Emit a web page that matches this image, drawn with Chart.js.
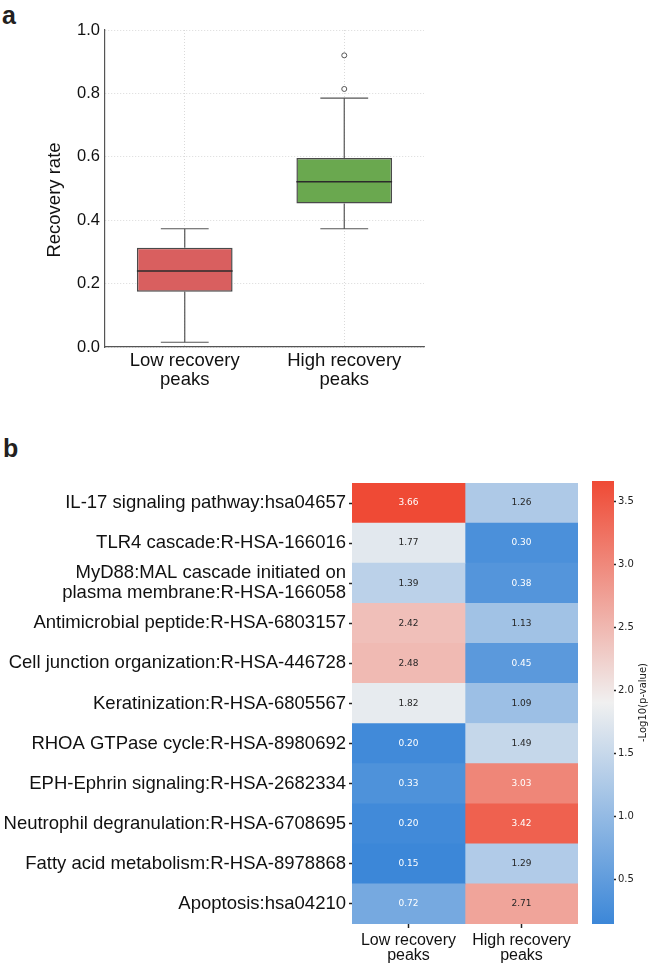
<!DOCTYPE html>
<html>
<head>
<meta charset="utf-8">
<script src="https://cdn.jsdelivr.net/npm/chart.js@4.4.0/dist/chart.umd.min.js"></script>
<style>
  body { margin: 0; background: #fff; width: 650px; height: 968px; position: relative; overflow: hidden; font-family: "Liberation Sans", Arial, sans-serif; }
  .panel { position: absolute; font-weight: bold; font-size: 25px; line-height: 25px; color: #231f20; }
  canvas { position: absolute; }
</style>
</head>
<body>
<div class="panel" style="left:2px;top:3px">a</div>
<div class="panel" style="left:3px;top:436px">b</div>
<canvas id="box" width="440" height="400" style="left:0;top:0"></canvas>
<canvas id="heat" width="590" height="498" style="left:0;top:470px"></canvas>
<canvas id="cbar" width="70" height="498" style="left:580px;top:470px"></canvas>
<script>
// panel a: box plot
const groups = [['Low recovery', 'peaks'], ['High recovery', 'peaks']];
const whiskerLow = [0.015, 0.373];
const q1 = [0.174, 0.453];
const median = [0.240, 0.521];
const q3 = [0.313, 0.596];
const whiskerHigh = [0.373, 0.785];
const outlierGroup = [1, 1];
const outlierVal = [0.814, 0.920];
const boxColors = ['#d95f5f', '#6aa84f'];
const yTicks = [0, 0.2, 0.4, 0.6, 0.8, 1.0];

// panel b: heatmap
const pathways = [
  'IL-17 signaling pathway:hsa04657',
  'TLR4 cascade:R-HSA-166016',
  ['MyD88:MAL cascade initiated on', 'plasma membrane:R-HSA-166058'],
  'Antimicrobial peptide:R-HSA-6803157',
  'Cell junction organization:R-HSA-446728',
  'Keratinization:R-HSA-6805567',
  'RHOA GTPase cycle:R-HSA-8980692',
  'EPH-Ephrin signaling:R-HSA-2682334',
  'Neutrophil degranulation:R-HSA-6708695',
  'Fatty acid metabolism:R-HSA-8978868',
  'Apoptosis:hsa04210'
];
const lowVals = [3.66, 1.77, 1.39, 2.42, 2.48, 1.82, 0.20, 0.33, 0.20, 0.15, 0.72];
const highVals = [1.26, 0.30, 0.38, 1.13, 0.45, 1.09, 1.49, 3.03, 3.42, 1.29, 2.71];
const colLabels = [['Low recovery', 'peaks'], ['High recovery', 'peaks']];
const cbTicks = [0.5, 1.0, 1.5, 2.0, 2.5, 3.0, 3.5];
const vmin = 0.15, vmax = 3.66;

const blue = [60, 135, 216], mid = [240, 240, 240], red = [239, 74, 53];

function cellColor(v) {
  const c = (vmin + vmax) / 2;
  let a, b, t;
  if (v <= c) { a = blue; b = mid; t = (v - vmin) / (c - vmin); }
  else { a = mid; b = red; t = (v - c) / (vmax - c); }
  t = Math.max(0, Math.min(1, t));
  const rgb = a.map((x, i) => Math.round(x + (b[i] - x) * t));
  return 'rgb(' + rgb.join(',') + ')';
}

function textColor(v) {
  const rgb = cellColor(v).match(/\d+/g).map(Number).map(x => {
    x /= 255;
    return x <= 0.03928 ? x / 12.92 : Math.pow((x + 0.055) / 1.055, 2.4);
  });
  const lum = 0.2126 * rgb[0] + 0.7152 * rgb[1] + 0.0722 * rgb[2];
  return lum > 0.408 ? '#262626' : '#ffffff';
}

// whiskers, medians and the y title
const boxExtras = {
  id: 'boxExtras',
  afterDatasetsDraw(chart) {
    const ctx = chart.ctx;
    const xs = chart.scales.x, ys = chart.scales.y;
    const bars = chart.getDatasetMeta(0).data;
    ctx.save();
    for (let i = 0; i < groups.length; i++) {
      const x = xs.getPixelForValue(i);
      const w = bars[i].width;
      ctx.strokeStyle = '#555';
      ctx.lineWidth = 1.2;
      ctx.beginPath();
      ctx.moveTo(x, ys.getPixelForValue(q3[i]));
      ctx.lineTo(x, ys.getPixelForValue(whiskerHigh[i]));
      ctx.moveTo(x, ys.getPixelForValue(q1[i]));
      ctx.lineTo(x, ys.getPixelForValue(whiskerLow[i]));
      ctx.moveTo(x - w / 4, ys.getPixelForValue(whiskerHigh[i]));
      ctx.lineTo(x + w / 4, ys.getPixelForValue(whiskerHigh[i]));
      ctx.moveTo(x - w / 4, ys.getPixelForValue(whiskerLow[i]));
      ctx.lineTo(x + w / 4, ys.getPixelForValue(whiskerLow[i]));
      ctx.stroke();
      ctx.strokeStyle = '#2b2b2b';
      ctx.lineWidth = 1.5;
      ctx.beginPath();
      ctx.moveTo(x - w / 2, ys.getPixelForValue(median[i]));
      ctx.lineTo(x + w / 2, ys.getPixelForValue(median[i]));
      ctx.stroke();
    }
    ctx.restore();
  },
  afterDraw(chart) {
    const ctx = chart.ctx;
    ctx.save();
    ctx.translate(55, 200);
    ctx.rotate(-Math.PI / 2);
    ctx.font = '18.5px "Liberation Sans"';
    ctx.fillStyle = '#111';
    ctx.textAlign = 'center';
    ctx.textBaseline = 'middle';
    ctx.fillText('Recovery rate', 0, 0);
    ctx.restore();
  }
};

new Chart(document.getElementById('box'), {
  type: 'bar',
  data: {
    labels: groups,
    datasets: [{
      data: q1.map((v, i) => [v, q3[i]]),
      backgroundColor: boxColors,
      borderColor: '#4a4a4a',
      borderWidth: 1.5,
      borderSkipped: false,
      grouped: false,
      barPercentage: 0.6,
      categoryPercentage: 1
    }, {
      type: 'scatter',
      xAxisID: 'xo',
      data: outlierVal.map((v, i) => ({ x: outlierGroup[i], y: v })),
      pointStyle: 'circle',
      pointRadius: 2.5,
      pointBorderWidth: 1,
      pointBorderColor: '#555',
      pointBackgroundColor: '#fff'
    }]
  },
  options: {
    responsive: false,
    animation: false,
    layout: { padding: { top: 30, right: 16, left: 0, bottom: 0 } },
    plugins: { legend: { display: false }, tooltip: { enabled: false } },
    scales: {
      x: {
        type: 'category',
        offset: true,
        grid: { offset: false, color: '#d0d0d0', lineWidth: 0.8, drawTicks: false },
        border: { color: '#555', width: 1.2, dash: [1, 2] },
        ticks: { font: { family: 'Liberation Sans', size: 18.5, lineHeight: 1.0 }, color: '#111', padding: 5, maxRotation: 0 },
        afterFit: s => { s.height = 53; }
      },
      xo: { type: 'linear', min: -0.5, max: 1.5, offset: false, display: false },
      y: {
        min: 0, max: 1,
        afterBuildTicks: s => { s.ticks = yTicks.map(v => ({ value: v })); },
        grid: { color: '#d0d0d0', lineWidth: 0.8, drawTicks: false },
        border: { color: '#555', width: 1.2, dash: [1, 2] },
        ticks: { callback: v => v.toFixed(1), font: { family: 'Liberation Sans', size: 16.5 }, color: '#111', padding: 5 },
        afterFit: s => { s.width = 105; }
      }
    }
  },
  plugins: [boxExtras]
});

// value labels inside heatmap cells
const cellText = {
  id: 'cellText',
  afterDatasetsDraw(chart) {
    const ctx = chart.ctx;
    ctx.save();
    ctx.font = '9px "DejaVu Sans"';
    ctx.textAlign = 'center';
    ctx.textBaseline = 'middle';
    chart.data.datasets.forEach((ds, di) => {
      chart.getDatasetMeta(di).data.forEach((el, i) => {
        const p = el.getCenterPoint();
        ctx.fillStyle = textColor(ds.vals[i]);
        ctx.fillText(ds.vals[i].toFixed(2), p.x, p.y);
      });
    });
    ctx.restore();
  }
};

new Chart(document.getElementById('heat'), {
  type: 'bar',
  data: {
    labels: pathways,
    datasets: [
      { data: lowVals.map(() => 1), vals: lowVals, backgroundColor: lowVals.map(cellColor) },
      { data: highVals.map(() => 1), vals: highVals, backgroundColor: highVals.map(cellColor) }
    ]
  },
  options: {
    indexAxis: 'y',
    responsive: false,
    animation: false,
    layout: { padding: { top: 11, right: 12, left: 0, bottom: 0 } },
    plugins: { legend: { display: false }, tooltip: { enabled: false } },
    datasets: { bar: { barPercentage: 1, categoryPercentage: 1, borderWidth: 0 } },
    scales: {
      x: {
        type: 'linear', stacked: true, min: 0, max: 2,
        afterBuildTicks: s => { s.ticks = [{ value: 0.5 }, { value: 1.5 }]; },
        ticks: { callback: (v, i) => colLabels[i], font: { family: 'Liberation Sans', size: 16, lineHeight: 0.95 }, color: '#111', padding: 5, maxRotation: 0, autoSkip: false },
        grid: { drawOnChartArea: false, tickLength: 4, color: '#222', tickColor: '#222', tickWidth: 1.5 },
        border: { display: false },
        afterFit: s => { s.height = 44; }
      },
      y: {
        stacked: true,
        ticks: { font: { family: 'Liberation Sans', size: 18.5, lineHeight: 1.08 }, color: '#111', padding: 3, autoSkip: false },
        grid: { offset: false, drawOnChartArea: false, tickLength: 3, color: '#222', tickColor: '#222', tickWidth: 1.5 },
        border: { display: false },
        afterFit: s => { s.width = 352; }
      }
    }
  },
  plugins: [cellText]
});

// colour bar
new Chart(document.getElementById('cbar'), {
  type: 'bar',
  data: {
    labels: [''],
    datasets: [{
      data: [[vmin, vmax]],
      barPercentage: 1,
      categoryPercentage: 1,
      borderWidth: 0,
      backgroundColor: c => {
        const a = c.chart.chartArea;
        if (!a) return cellColor(vmin);
        const g = c.chart.ctx.createLinearGradient(0, a.bottom, 0, a.top);
        g.addColorStop(0, cellColor(vmin));
        g.addColorStop(0.5, cellColor((vmin + vmax) / 2));
        g.addColorStop(1, cellColor(vmax));
        return g;
      }
    }]
  },
  options: {
    responsive: false,
    animation: false,
    layout: { padding: { top: 11, right: 0, left: 12, bottom: 44 } },
    plugins: { legend: { display: false }, tooltip: { enabled: false } },
    scales: {
      x: { display: false },
      y: {
        position: 'right', min: vmin, max: vmax,
        afterBuildTicks: s => { s.ticks = cbTicks.map(v => ({ value: v })); },
        ticks: { callback: v => v.toFixed(1), font: { family: 'DejaVu Sans', size: 10 }, color: '#222', padding: 2 },
        grid: { drawOnChartArea: false, tickLength: 2, color: '#222', tickColor: '#222', tickWidth: 1.5 },
        border: { display: false },
        afterFit: s => { s.width = 36; }
      }
    }
  },
  plugins: [{
    id: 'cbTitle',
    afterDraw(chart) {
      const a = chart.chartArea, ctx = chart.ctx;
      ctx.save();
      ctx.translate(63, (a.top + a.bottom) / 2);
      ctx.rotate(-Math.PI / 2);
      ctx.font = '10px "DejaVu Sans"';
      ctx.fillStyle = '#222';
      ctx.textAlign = 'center';
      ctx.textBaseline = 'middle';
      ctx.fillText('-Log10(p-value)', 0, 0);
      ctx.restore();
    }
  }]
});
</script>
</body>
</html>
